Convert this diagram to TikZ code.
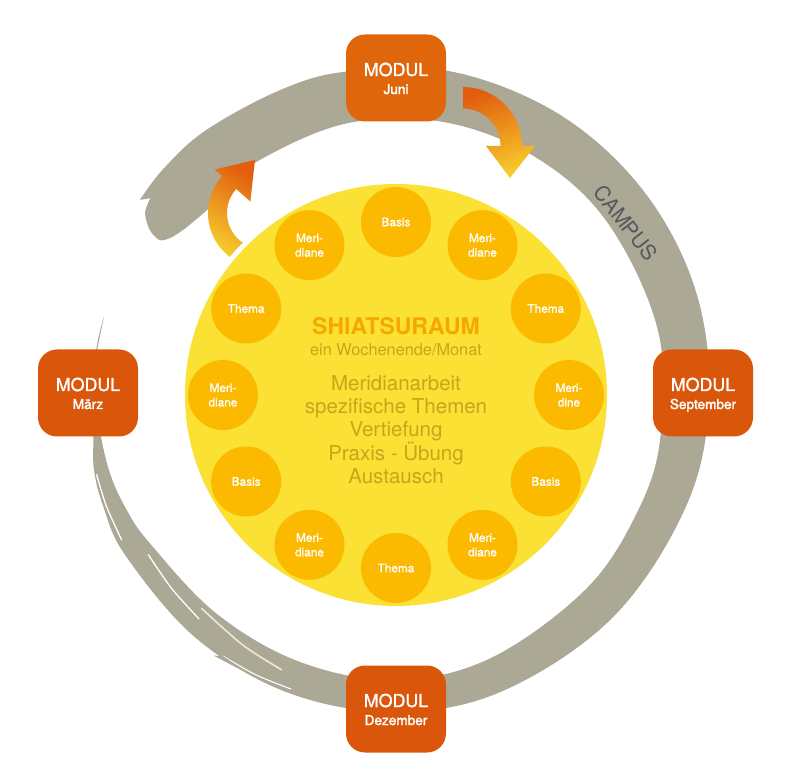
\documentclass[tikz,border=0pt]{standalone}
\usepackage{fontspec}
\setmainfont{TeX Gyre Heros}
\newfontfamily\medfont[FakeBold=1.3]{TeX Gyre Heros}
\newfontfamily\monthfont[FakeBold=2]{TeX Gyre Heros}
\newfontfamily\semifont[FakeBold=0.9]{TeX Gyre Heros}
\definecolor{ringgray}{RGB}{171,168,150}
\definecolor{boxor}{RGB}{218,86,10}
\definecolor{boxjuni}{RGB}{224,102,12}
\definecolor{bigyel}{RGB}{250,225,52}
\definecolor{smallyel}{RGB}{251,186,0}
\definecolor{titleor}{RGB}{246,168,0}
\definecolor{bodytxt}{RGB}{204,163,26}
\definecolor{arrowor}{RGB}{226,94,14}
\definecolor{arrowye}{RGB}{247,204,46}
\definecolor{campus}{RGB}{85,88,92}
\definecolor{streak}{RGB}{236,232,210}
\begin{document}
\begin{tikzpicture}[x=1pt,y=1pt,
  modbox/.style={fill=boxor, rounded corners=19pt, minimum width=100pt, minimum height=87pt, inner sep=0pt},
  modtitle/.style={text=white, font=\medfont\fontsize{17.8}{18}\selectfont, anchor=base, inner sep=0pt},
  modmonth/.style={text=white, font=\monthfont\fontsize{13.6}{13.6}\selectfont, anchor=base, inner sep=0pt},
  smallc/.style={circle, fill=smallyel, minimum size=70pt, inner sep=0pt, text=white, align=center, font=\semifont\fontsize{11.8}{14.5}\selectfont},
  streakw/.style={white, line width=1.3pt, line cap=round},
]
\useasboundingbox (0,0) rectangle (790,780);

% ---- gray brush ring ----
\begin{scope}[shift={(396,380)}]
\fill[ringgray] plot[smooth, tension=0.6] coordinates {(142:325) (135:328) (125:330) (110:331) (98:332) (80:333) (60:329) (40:324) (20:319) (0:313) (-20:309) (-45:307) (-70:310) (-90:312) (-110:312) (-130:311) (-150:312) (-160:311.5) (-167:310) (-173:305) (-180:304.5) (-190:304) (-196:303.7)}
  -- plot[smooth, tension=0.6] coordinates {(-190:303) (-180:300.5) (-172:297) (-165:295) (-158:291) (-150:285) (-130:279) (-110:279) (-90:280) (-70:275) (-45:268) (-25:266) (-8:267) (15:271) (40:276) (60:280) (80:282) (100:281) (120:276) (130:270) (135:268) (141:272)}
  -- plot[smooth] coordinates {(141:272) (144:277) (145.9:285) (145.4:299) (143.3:313) (140.6:318)}
  -- (142:325) -- cycle;
% brush streaks
\draw[streakw] plot[smooth] coordinates {(-166:308.5) (-160:308.5) (-153:308)};
\draw[streakw] plot[smooth] coordinates {(-148:292) (-140:293) (-132:294.5)};
\draw[streak, line width=1.6pt, line cap=round] plot[smooth] coordinates {(-133:285) (-122:289) (-113:293)};
\draw[streakw, line width=1.1pt] plot[smooth] coordinates {(-124:309) (-117:308.5) (-110:307.5)};
\fill[ringgray] (-124:309) -- (-125.5:314) -- (-118:311) -- cycle;
\fill[ringgray] (-134:285) -- (-136:280) -- (-130:281) -- cycle;
\end{scope}

% ---- curved arrows ----
\begin{scope}[shift={(263,567)}]
\shade[top color=arrowor, bottom color=arrowye, shading angle=-30]
  (240:55) arc[start angle=240, end angle=138, radius=55]
  -- (138:65) -- (-8,53) -- (138:17) -- (138:36)
  arc[start angle=138, end angle=240, radius=36] -- cycle;
\end{scope}
\begin{scope}[shift={(463,634)}]
\shade[top color=arrowor, bottom color=arrowye, shading angle=20]
  (90:59) arc[start angle=90, end angle=0, radius=59]
  -- (72,0) -- (47,-32) -- (23,0) -- (37.5,0)
  arc[start angle=0, end angle=90, radius=37.5] -- cycle;
\end{scope}

% ---- central circle ----
\fill[white] (396,385) circle (216);
\fill[bigyel] (396,385) circle (211);

\foreach \i/\a/\t in {1/90/Basis, 2/60/{Meri-\\diane}, 3/30/Thema, 4/0/{Meri-\\dine},
  5/-30/Basis, 6/-60/{Meri-\\diane}, 7/-90/Thema, 8/-120/{Meri-\\diane},
  9/-150/Basis, 10/180/{Meri-\\diane}, 11/150/Thema, 12/120/{Meri-\\diane}}{
  \path (396,385) ++(\a:173) node[smallc] (s\i) {\t};
}

\node[anchor=base, inner sep=0pt, text=titleor, font=\bfseries\fontsize{23}{23}\selectfont] (title) at (396,445) {SHIATSURAUM};
\node[anchor=base, inner sep=0pt, text=bodytxt, font=\fontsize{16.3}{16.3}\selectfont] (sub) at (396,424.5) {ein Wochenende/Monat};
\node[anchor=base, inner sep=0pt, align=center, text=bodytxt, font=\fontsize{20.5}{23.4}\selectfont] (body) at (396,296.4) {Meridianarbeit\\spezifische Themen\\Vertiefung\\Praxis - Übung\\Austausch};

% ---- CAMPUS ----
\node[rotate=-52, text=campus, font=\fontsize{21}{21}\selectfont, inner sep=0pt] (campus) at (626,557) {CAMPUS};

% ---- module boxes ----
\node[modbox, fill=boxjuni] (juni) at (396,702) {};
\node[modbox] (sept) at (703,387) {};
\node[modbox] (dez) at (396,71) {};
\node[modbox] (maerz) at (88,387) {};

\node[modtitle] (juniT) at ([yshift=2pt]juni.center) {MODUL};
\node[modmonth] (juniM) at ([yshift=-16pt]juni.center) {Juni};
\node[modtitle] (septT) at ([yshift=2pt]sept.center) {MODUL};
\node[modmonth] (septM) at ([yshift=-16pt]sept.center) {September};
\node[modtitle] (dezT) at ([yshift=2pt]dez.center) {MODUL};
\node[modmonth] (dezM) at ([yshift=-16pt]dez.center) {Dezember};
\node[modtitle] (maerzT) at ([yshift=2pt]maerz.center) {MODUL};
\node[modmonth] (maerzM) at ([yshift=-16pt]maerz.center) {März};
\end{tikzpicture}
\end{document}
